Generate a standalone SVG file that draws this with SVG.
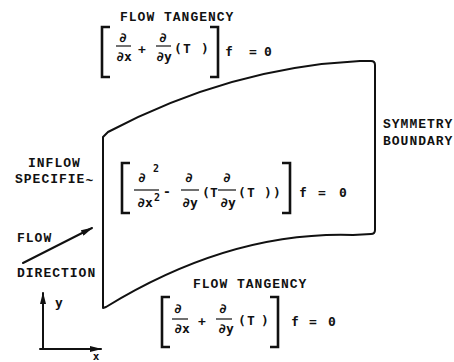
<svg xmlns="http://www.w3.org/2000/svg" width="454" height="362" viewBox="0 0 454 362">
<style>
.t{font-family:"Liberation Mono","DejaVu Sans Mono",monospace;font-weight:bold;font-size:13px;fill:#111;letter-spacing:1px}
.m{font-family:"DejaVu Sans Mono","Liberation Mono",monospace;font-weight:bold;font-size:13px;fill:#111;text-anchor:middle}
.br{fill:none;stroke:#111;stroke-width:2.6;stroke-linejoin:miter}
.fl{stroke:#111;stroke-width:1.2}
.ln{fill:none;stroke:#111;stroke-width:2;stroke-linecap:round;stroke-linejoin:round}
</style>
<defs>
<marker id="ah" viewBox="0 0 12 6" refX="11" refY="3" markerWidth="12" markerHeight="6" markerUnits="userSpaceOnUse" orient="auto">
<path d="M0,0 L12,3 L0,6 Z" fill="#111"/>
</marker>
</defs>
<rect width="454" height="362" fill="#fff"/>

<g id="domain">
<path class="ln" d="M103,308 L103,137 L108,132 Q230,67.5 360,61 L371,61 Q375,61 375,65 L375,230 Q375,234 371,234 L353,235 Q230,231 106,307 Z"/>
</g>

<g id="top-bc">
<text class="t" x="120" y="21">FLOW TANGENCY</text>
<path class="br" d="M110,27 L102,27 L102,77 L110,77"/>
<path class="br" d="M210,27 L218,27 L218,77 L210,77"/>
<text class="m" x="123" y="42">∂</text>
<line class="fl" x1="116" y1="46" x2="131" y2="46"/>
<text class="m" x="124" y="61">∂x</text>
<text class="m" x="142" y="54">+</text>
<text class="m" x="163" y="42">∂</text>
<line class="fl" x1="156" y1="46" x2="171" y2="46"/>
<text class="m" x="164" y="61">∂y</text>
<text class="m" x="178" y="53">(</text>
<text class="m" x="187" y="53">T</text>
<text class="m" x="205" y="53">)</text>
<text class="m" x="229" y="56">f</text>
<text class="m" x="253" y="56">=</text>
<text class="m" x="268" y="56">0</text>
</g>

<g id="interior">
<path class="br" d="M130,163 L122,163 L122,213 L130,213"/>
<path class="br" d="M282,163 L290,163 L290,213 L282,213"/>
<text class="m" x="142" y="182">∂</text>
<text class="m" x="156" y="172" style="font-size:10px">2</text>
<line class="fl" x1="134" y1="190" x2="159" y2="190"/>
<text class="m" x="145" y="207">∂x</text>
<text class="m" x="157" y="201" style="font-size:10px">2</text>
<text class="m" x="167" y="196">-</text>
<text class="m" x="189" y="182">∂</text>
<line class="fl" x1="181" y1="190" x2="199" y2="190"/>
<text class="m" x="190" y="207">∂y</text>
<text class="m" x="206" y="197">(</text>
<text class="m" x="214" y="197">T</text>
<text class="m" x="227" y="182">∂</text>
<line class="fl" x1="218" y1="190" x2="236" y2="190"/>
<text class="m" x="228" y="207">∂y</text>
<text class="m" x="242" y="197">(</text>
<text class="m" x="251" y="197">T</text>
<text class="m" x="268" y="197">)</text>
<text class="m" x="277" y="197">)</text>
<text class="m" x="303" y="197">f</text>
<text class="m" x="322" y="197">=</text>
<text class="m" x="343" y="197">0</text>
</g>

<g id="bottom-bc">
<text class="t" x="193" y="288">FLOW TANGENCY</text>
<path class="br" d="M170,297 L162,297 L162,347 L170,347"/>
<path class="br" d="M270,297 L278,297 L278,347 L270,347"/>
<text class="m" x="178" y="313">∂</text>
<line class="fl" x1="172" y1="319" x2="188" y2="319"/>
<text class="m" x="182" y="333">∂x</text>
<text class="m" x="202" y="326">+</text>
<text class="m" x="223" y="313">∂</text>
<line class="fl" x1="216" y1="319" x2="232" y2="319"/>
<text class="m" x="226" y="333">∂y</text>
<text class="m" x="242" y="325">(</text>
<text class="m" x="251" y="325">T</text>
<text class="m" x="265" y="325">)</text>
<text class="m" x="295" y="326">f</text>
<text class="m" x="313" y="326">=</text>
<text class="m" x="332" y="326">0</text>
</g>

<g id="inflow-label">
<text class="t" x="28" y="167">INFLOW</text>
<text class="t" x="15" y="183">SPECIFIE<tspan dy="2">~</tspan></text>
</g>

<g id="symmetry-label">
<text class="t" x="383" y="128">SYMMETRY</text>
<text class="t" x="383" y="145">BOUNDARY</text>
</g>

<g id="flow-direction">
<text class="t" x="17" y="242">FLOW</text>
<text class="t" x="17" y="277">DIRECTION</text>
</g>

<g id="axes">
<text class="m" x="59" y="307">y</text>
<text class="m" x="96" y="360" style="font-size:11px">x</text>
</g>

<g id="connectors">
<line class="ln" x1="23" y1="263" x2="92" y2="228" marker-end="url(#ah)"/>
<line class="ln" x1="43" y1="349" x2="43" y2="293" marker-end="url(#ah)"/>
<line class="ln" x1="40" y1="349" x2="101" y2="349" marker-end="url(#ah)"/>
</g>
</svg>
